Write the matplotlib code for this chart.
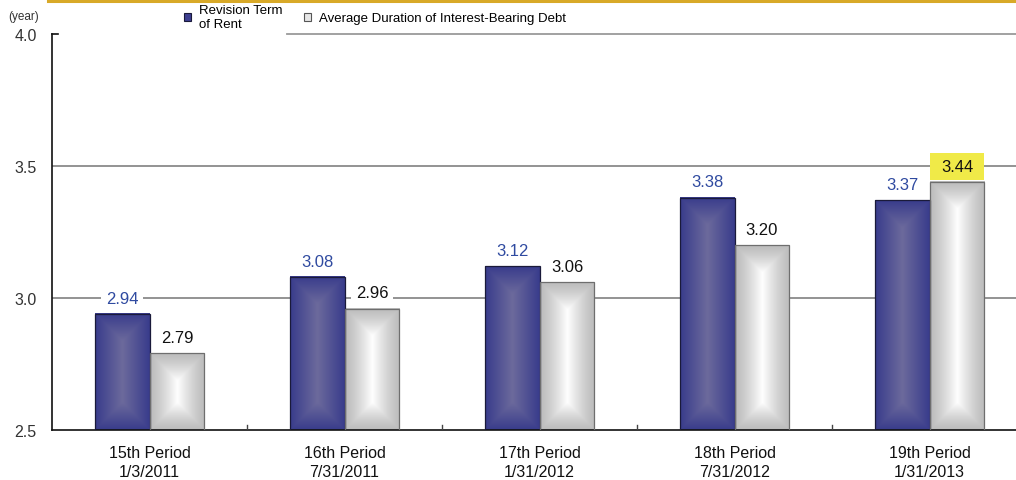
import numpy as np
import matplotlib
matplotlib.use("Agg")
import matplotlib.pyplot as plt
from matplotlib.patches import Patch, Rectangle
from matplotlib.lines import Line2D
from matplotlib.colors import to_rgb

plt.rcParams['font.family'] = ['Liberation Sans', 'DejaVu Sans']

periods = ["15th Period\n1/3/2011", "16th Period\n7/31/2011", "17th Period\n1/31/2012",
           "18th Period\n7/31/2012", "19th Period\n1/31/2013"]
revision_term = [2.94, 3.08, 3.12, 3.38, 3.37]
avg_duration = [2.79, 2.96, 3.06, 3.20, 3.44]
series_names = ["Revision Term\nof Rent", "Average Duration of Interest-Bearing Debt"]
yticks = [2.5, 3.0, 3.5, 4.0]

W, H = 1016, 481
fig = plt.figure(figsize=(W / 100, H / 100), dpi=100)
ax = fig.add_axes([52 / W, 50 / H, 975 / W, 396 / H])
ax.set_xlim(-0.5, 4.5)
ax.set_ylim(2.5, 4.0)


def box_gradient(edge, center, w_px, h_px, gamma=1.0):
    # rectangular "path" gradient: light in the middle, darker at the edges
    nx, ny = max(int(w_px), 2), max(int(h_px), 2)
    xs = np.abs(np.linspace(-1, 1, nx)) * w_px / 2
    ys = np.abs(np.linspace(-1, 1, ny)) * h_px / 2
    dx = w_px / 2 - xs[None, :]
    dy = h_px / 2 - ys[:, None]
    d = np.minimum(dx, dy) / (w_px / 2)
    t = np.clip(d, 0, 1) ** gamma
    e, c = np.array(to_rgb(edge)), np.array(to_rgb(center))
    return e + (c - e) * t[..., None]


x = np.arange(len(periods))
bw = 0.282
px_per_x = 975 / 5
px_per_y = 396 / 1.5

bars1 = ax.bar(x - bw / 2, revision_term, bw, bottom=0, color='none',
               edgecolor='#1a1a3a', linewidth=0.9, zorder=3)
bars2 = ax.bar(x + bw / 2, avg_duration, bw, bottom=0, color='none',
               edgecolor='#6e6e6e', linewidth=0.9, zorder=3)

for bars, edge, center, gamma in [(bars1, '#393c8c', '#6c6a9c', 1.0),
                                  (bars2, '#bdbdbd', '#ffffff', 1.3)]:
    for b in bars:
        x0, x1 = b.get_x(), b.get_x() + b.get_width()
        top = b.get_height()
        img = box_gradient(edge, center, (x1 - x0) * px_per_x,
                           (top - 2.5) * px_per_y, gamma)
        ax.imshow(img, extent=[x0, x1, 2.5, top], aspect='auto', zorder=2,
                  interpolation='bilinear')

ax.set_xlim(-0.5, 4.5)
ax.set_ylim(2.5, 4.0)

# gridlines
for yv in [3.0, 3.5]:
    ax.axhline(yv, color='#8a8a8a', lw=1.3, zorder=1)
ax.axhline(4.0, xmin=(287 - 52) / 975, color='#9a9a9a', lw=1.3, zorder=1, clip_on=False)

# value labels
for b, v in zip(bars1, revision_term):
    ax.annotate(f"{v:.2f}", (b.get_x() + b.get_width() / 2, v), xytext=(0, 6),
                textcoords='offset points', ha='center', va='bottom', fontsize=12,
                color='#2f4aa0', zorder=4,
                bbox=dict(boxstyle='square,pad=0.3', fc='white', ec='none'))
for i, (b, v) in enumerate(zip(bars2, avg_duration)):
    cx = b.get_x() + b.get_width() / 2
    if i == len(avg_duration) - 1:
        # highlighted latest value: yellow box as wide as the bar
        y0 = v + 2 / px_per_y
        ax.add_patch(Rectangle((b.get_x(), y0), b.get_width(), 27 / px_per_y,
                               facecolor='#f0ea48', edgecolor='none', zorder=4))
        ax.text(cx, y0 + 13.5 / px_per_y, f"{v:.2f}", ha='center', va='center',
                fontsize=12, color='#111111', zorder=5)
    else:
        ax.annotate(f"{v:.2f}", (cx, v), xytext=(0, 6),
                    textcoords='offset points', ha='center', va='bottom', fontsize=12,
                    color='#111111', zorder=4,
                    bbox=dict(boxstyle='square,pad=0.3', fc='white', ec='none'))

# axes styling
for s in ['top', 'right']:
    ax.spines[s].set_visible(False)
ax.spines['left'].set_color('#111111')
ax.spines['bottom'].set_color('#111111')
ax.spines['left'].set_linewidth(1.2)
ax.spines['bottom'].set_linewidth(1.2)

ax.set_yticks(yticks)
ax.set_yticklabels([f"{t:.1f}" for t in yticks], fontsize=11.5, color='#333333')
ax.tick_params(axis='y', length=0, pad=11)
ax.plot([-0.5, -0.47], [4.0, 4.0], color='#111111', lw=1.2, clip_on=False, zorder=5)

ax.set_xticks(x)
ax.set_xticklabels(periods, fontsize=11.5, color='#111111', linespacing=1.3)
ax.tick_params(axis='x', length=0, pad=11)
for xb in x[:-1] + 0.5:
    ax.plot([xb, xb], [2.5, 2.5 + 5 / px_per_y], color='#444444', lw=1, zorder=5)

fig.text(8 / W, 1 - 17 / H, "(year)", fontsize=8.5, color='#333333', va='center')

handles = [Patch(facecolor='#3d3f90', edgecolor='#1a1a3a', lw=0.8),
           Patch(facecolor='#e6e6e6', edgecolor='#555555', lw=0.8)]
fig.legend(handles, series_names, ncol=2, loc='center', bbox_to_anchor=(375 / W, 1 - 18 / H),
           frameon=False, fontsize=9.5, handlelength=0.55, handleheight=0.55,
           handletextpad=0.6, columnspacing=1.6, labelspacing=0.1)

# gold rule along the top
fig.add_artist(Line2D([48 / W, 1], [1 - 1.5 / H, 1 - 1.5 / H], color='#d8a928', lw=2.2))

fig.savefig("out.png", dpi=100)
